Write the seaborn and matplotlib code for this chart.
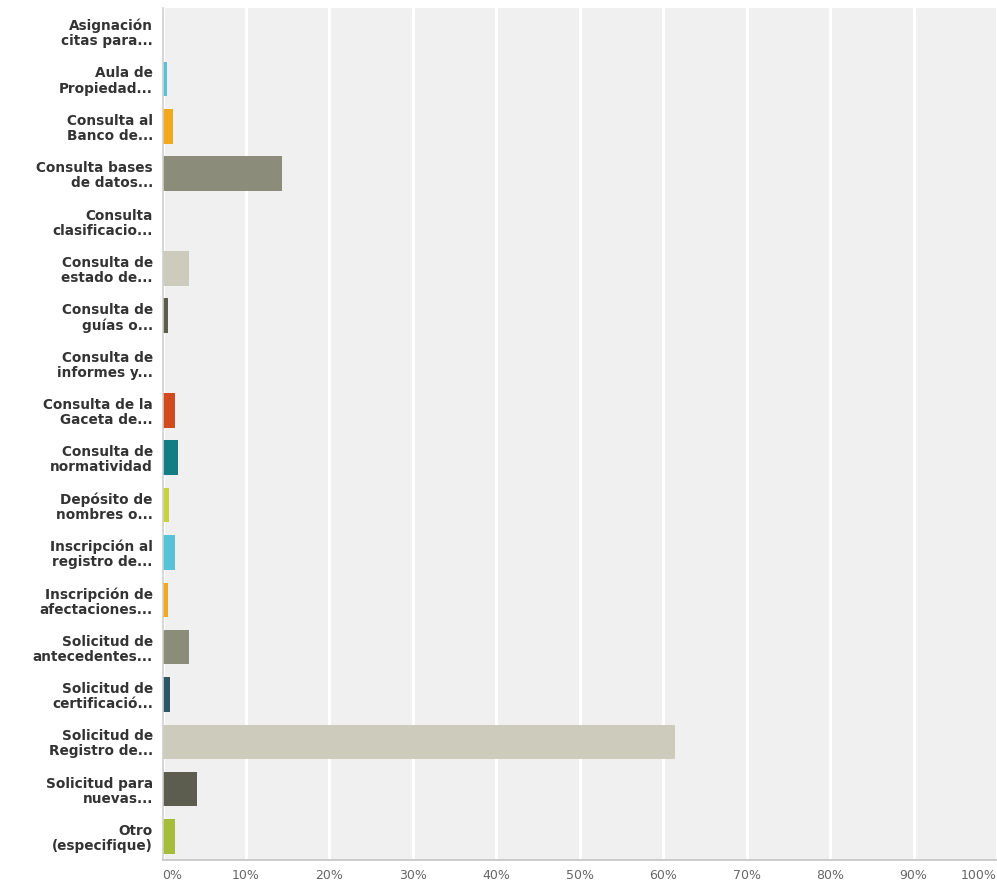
import matplotlib
matplotlib.use("Agg")
import matplotlib.pyplot as plt
import seaborn as sns
import pandas as pd

# Survey answers (share of respondents, %)
categories = [
    "Asignación\ncitas para...",
    "Aula de\nPropiedad...",
    "Consulta al\nBanco de...",
    "Consulta bases\nde datos...",
    "Consulta\nclasificacio...",
    "Consulta de\nestado de...",
    "Consulta de\nguías o...",
    "Consulta de\ninformes y...",
    "Consulta de la\nGaceta de...",
    "Consulta de\nnormatividad",
    "Depósito de\nnombres o...",
    "Inscripción al\nregistro de...",
    "Inscripción de\nafectaciones...",
    "Solicitud de\nantecedentes...",
    "Solicitud de\ncertificació...",
    "Solicitud de\nRegistro de...",
    "Solicitud para\nnuevas...",
    "Otro\n(especifique)",
]
values = [0.0, 0.5, 1.3, 14.3, 0.0, 3.2, 0.7, 0.0, 1.5, 1.8,
          0.8, 1.5, 0.7, 3.2, 0.9, 61.4, 4.1, 1.5]

base_colors = ["#c8d33c", "#56c3d6", "#f4a81d", "#8b8c7a", "#2e5667",
               "#cdcbbb", "#5c5c4f", "#a6bd3a", "#d14a1d", "#137d83"]
colors = [base_colors[i % len(base_colors)] for i in range(len(categories))]

tick_values = list(range(0, 101, 10))
tick_labels = [f"{v}%" for v in tick_values]

df = pd.DataFrame({"answer": categories, "pct": values})

sns.set_theme(style="whitegrid")
plt.rcParams["font.family"] = ["DejaVu Sans"]

fig = plt.figure(figsize=(9.97, 8.85), dpi=100)
ax = fig.add_axes([0.163, 0.028, 0.837, 0.963])
ax.set_facecolor("#f0f0f0")

sns.barplot(data=df, y="answer", x="pct", hue="answer", palette=colors,
            orient="h", width=0.73, legend=False, ax=ax, linewidth=0,
            saturation=1)

ax.set_xlim(0, 100)
ax.set_xticks(tick_values)
ax.set_xticklabels(tick_labels)
ax.set_xlabel("")
ax.set_ylabel("")

ax.grid(axis="x", color="white", linewidth=2.2)
ax.grid(axis="y", visible=False)
ax.set_axisbelow(True)

for side in ["top", "right"]:
    ax.spines[side].set_visible(False)
ax.spines["left"].set_color("#cfcfcf")
ax.spines["left"].set_linewidth(1.2)
ax.spines["bottom"].set_color("#c4c4c4")
ax.spines["bottom"].set_linewidth(1.2)

ax.tick_params(axis="y", length=0, pad=7, labelsize=9.8, labelcolor="#333333")
for lbl in ax.get_yticklabels():
    lbl.set_fontweight("bold")
    lbl.set_linespacing(1.1)
    lbl.set_horizontalalignment("right")

ax.tick_params(axis="x", length=0, pad=6, labelsize=9, labelcolor="#666666")
xl = ax.get_xticklabels()
xl[0].set_horizontalalignment("left")
xl[-1].set_horizontalalignment("right")

fig.savefig("out.png", dpi=100)
